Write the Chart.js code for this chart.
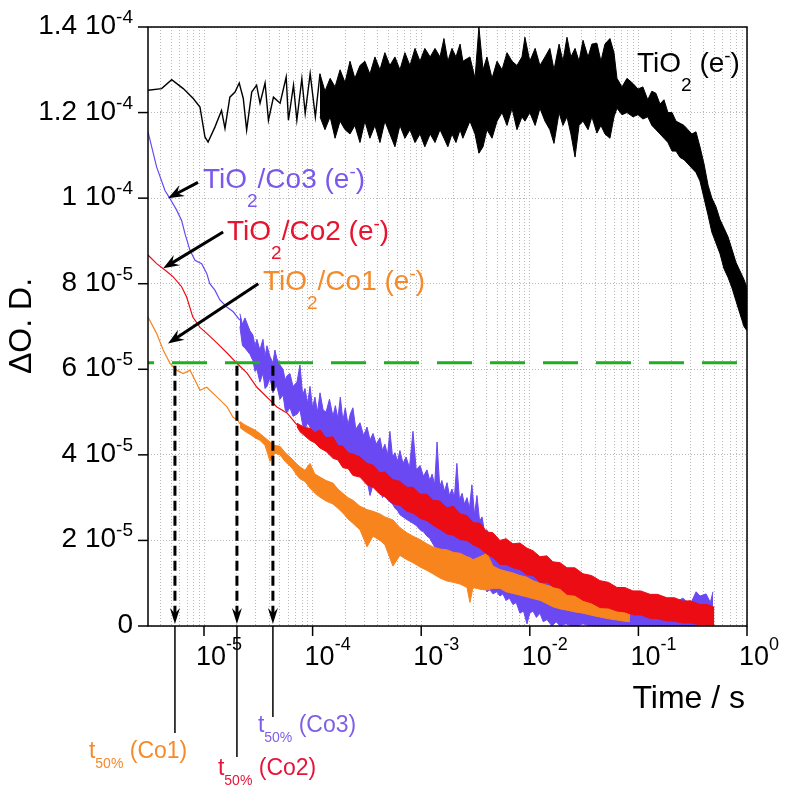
<!DOCTYPE html>
<html>
<head>
<meta charset="utf-8">
<script src="https://cdn.jsdelivr.net/npm/chart.js"></script>
<style>
  html, body { margin: 0; padding: 0; background: #fff; }
  #wrap { width: 786px; height: 790px; }
</style>
</head>
<body>
<div id="wrap"><canvas id="myChart" width="786" height="790"></canvas></div>
<script>
// all absorbance values are in units of 1e-5, times in seconds
const UNIT = 1e-5;
const X_MIN = 3.05e-6, X_MAX = 1;

const yTickValues = [0, 2e-5, 4e-5, 6e-5, 8e-5, 1e-4, 1.2e-4, 1.4e-4];
const yTickMain = ['0', '2 10', '4 10', '6 10', '8 10', '1 10', '1.2 10', '1.4 10'];
const yTickExp = ['', '-5', '-5', '-5', '-5', '-4', '-4', '-4'];
const xDecades = [1e-5, 1e-4, 1e-3, 1e-2, 1e-1, 1];
const xTickExp = ['-5', '-4', '-3', '-2', '-1', '0'];

// TiO2 (e-)
const tio2LineT = [3.05e-6, 4.07e-6, 5.04e-6, 6.44e-6, 7.96e-6, 9.18e-6, 1.02e-5, 1.09e-5, 1.26e-5, 1.45e-5, 1.56e-5, 1.73e-5, 1.93e-5, 2.11e-5, 2.30e-5, 2.47e-5, 2.75e-5, 3.05e-5, 3.28e-5, 3.65e-5, 3.92e-5, 4.36e-5, 5.02e-5, 5.71e-5, 5.99e-5, 6.67e-5, 7.16e-5, 7.96e-5, 8.55e-5, 9.50e-5, 1.06e-4, 1.17e-4];
const tio2LineV = [12.52, 12.56, 12.77, 12.56, 12.33, 12.13, 11.43, 11.31, 11.66, 12.05, 11.63, 12.36, 12.48, 12.69, 12.33, 11.59, 12.48, 12.64, 12.22, 12.69, 11.82, 12.36, 12.22, 12.83, 11.82, 12.64, 11.82, 12.79, 11.98, 12.91, 11.90, 12.91];
const tio2BandT = [1.17e-4, 1.30e-4, 1.45e-4, 1.61e-4, 1.79e-4, 1.99e-4, 2.21e-4, 2.45e-4, 2.73e-4, 3.03e-4, 3.37e-4, 3.75e-4, 4.17e-4, 4.63e-4, 5.15e-4, 5.73e-4, 6.37e-4, 7.08e-4, 7.88e-4, 8.77e-4, 9.75e-4, 1.08e-3, 1.21e-3, 1.34e-3, 1.49e-3, 1.62e-3, 1.76e-3, 1.92e-3, 2.09e-3, 2.28e-3, 2.42e-3, 2.81e-3, 3.13e-3, 3.40e-3, 3.71e-3, 4.03e-3, 4.49e-3, 4.99e-3, 5.55e-3, 6.17e-3, 6.86e-3, 7.62e-3, 8.47e-3, 9.02e-3, 1.00e-2, 1.12e-2, 1.24e-2, 1.38e-2, 1.53e-2, 1.67e-2, 1.86e-2, 2.02e-2, 2.20e-2, 2.39e-2, 2.61e-2, 2.84e-2, 3.09e-2, 3.44e-2, 3.73e-2, 4.15e-2, 4.52e-2, 4.92e-2, 5.47e-2, 5.96e-2, 6.35e-2, 7.06e-2, 7.85e-2, 8.91e-2, 9.91e-2, 0.110, 0.122, 0.133, 0.145, 0.158, 0.172, 0.187, 0.204, 0.222, 0.242, 0.263, 0.286, 0.311, 0.339, 0.369, 0.402, 0.438, 0.475, 0.518, 0.564, 0.614, 0.668, 0.728, 0.791, 0.861, 0.938, 1.0];
const tio2BandHi = [12.9, 12.5, 12.8, 12.6, 13.0, 12.7, 13.2, 12.8, 13.1, 13.2, 12.9, 13.3, 13.0, 13.4, 13.1, 13.3, 13.0, 13.4, 13.1, 13.5, 13.2, 13.5, 13.3, 13.5, 13.3, 13.73, 13.2, 13.5, 13.3, 13.6, 13.2, 13.3, 12.8, 14.0, 13.0, 13.3, 12.8, 13.2, 13.0, 13.4, 13.2, 13.1, 13.3, 13.76, 13.2, 13.5, 13.1, 13.3, 13.5, 13.0, 13.6, 13.2, 13.76, 13.3, 13.5, 13.2, 13.69, 13.3, 13.6, 13.62, 13.2, 13.6, 13.73, 13.4, 12.8, 12.6, 12.8, 12.68, 12.55, 12.6, 12.3, 12.5, 12.45, 12.2, 12.3, 12.0, 12.0, 11.8, 11.75, 11.7, 11.6, 11.5, 11.55, 11.2, 10.8, 10.3, 10.0, 9.8, 9.5, 9.3, 9.1, 8.8, 8.5, 8.3, 8.1, 7.9];
const tio2BandLo = [11.9, 11.6, 11.9, 11.4, 11.8, 11.6, 11.5, 11.7, 11.3, 11.8, 11.4, 11.7, 11.3, 11.8, 11.5, 11.2, 11.7, 11.4, 11.6, 11.3, 11.5, 11.2, 11.5, 11.3, 11.6, 11.4, 11.2, 11.5, 11.3, 11.6, 11.4, 11.8, 11.5, 11.05, 11.2, 11.6, 11.4, 11.8, 12.0, 11.7, 12.1, 11.6, 11.9, 11.8, 12.0, 11.7, 12.1, 11.8, 11.6, 11.28, 12.0, 11.7, 11.9, 11.5, 10.96, 11.7, 11.8, 11.6, 11.9, 11.52, 11.7, 11.5, 11.4, 11.9, 12.1, 11.95, 12.0, 11.9, 11.95, 11.85, 11.9, 11.7, 11.6, 11.5, 11.4, 11.3, 11.1, 11.1, 10.95, 10.9, 10.8, 10.7, 10.6, 10.4, 10.0, 9.6, 9.2, 8.95, 8.7, 8.35, 8.15, 7.9, 7.6, 7.3, 7.0, 6.9];

// TiO2/Co3 (e-)
const co3LineT = [3.05e-6, 3.66e-6, 4.37e-6, 4.86e-6, 5.60e-6, 6.22e-6, 6.68e-6, 7.43e-6, 8.26e-6, 9.51e-6, 1.06e-5, 1.13e-5, 1.26e-5, 1.40e-5, 1.63e-5, 1.85e-5, 2.14e-5];
const co3LineV = [11.55, 10.73, 10.18, 9.99, 9.72, 9.48, 9.17, 8.78, 8.55, 8.47, 8.24, 8.00, 7.85, 7.62, 7.45, 7.35, 7.15];
const co3BandT = [2.14e-5, 2.26e-5, 2.38e-5, 2.65e-5, 2.82e-5, 2.95e-5, 3.07e-5, 3.27e-5, 3.49e-5, 3.65e-5, 3.80e-5, 4.05e-5, 4.31e-5, 4.50e-5, 4.69e-5, 5.01e-5, 5.34e-5, 5.60e-5, 5.81e-5, 6.19e-5, 6.60e-5, 7.18e-5, 7.65e-5, 8.10e-5, 8.51e-5, 9.00e-5, 9.46e-5, 1.00e-4, 1.05e-4, 1.11e-4, 1.17e-4, 1.25e-4, 1.33e-4, 1.43e-4, 1.54e-4, 1.62e-4, 1.71e-4, 1.80e-4, 1.90e-4, 2.00e-4, 2.12e-4, 2.22e-4, 2.35e-4, 2.50e-4, 2.73e-4, 2.95e-4, 3.17e-4, 3.38e-4, 3.60e-4, 3.85e-4, 4.17e-4, 4.40e-4, 4.63e-4, 4.90e-4, 5.15e-4, 5.45e-4, 5.73e-4, 6.05e-4, 6.37e-4, 6.80e-4, 7.25e-4, 7.80e-4, 8.40e-4, 9.00e-4, 9.75e-4, 1.05e-3, 1.13e-3, 1.20e-3, 1.26e-3, 1.33e-3, 1.40e-3, 1.48e-3, 1.55e-3, 1.64e-3, 1.73e-3, 1.82e-3, 1.92e-3, 2.02e-3, 2.13e-3, 2.25e-3, 2.38e-3, 2.50e-3, 2.64e-3, 2.78e-3, 2.93e-3, 3.10e-3, 3.26e-3, 3.45e-3, 3.63e-3, 3.83e-3, 4.03e-3, 4.30e-3, 4.58e-3, 4.95e-3, 5.31e-3, 5.65e-3, 6.04e-3, 6.50e-3, 7.00e-3, 7.50e-3, 8.11e-3, 8.75e-3, 9.42e-3, 1.00e-2, 1.07e-2, 1.15e-2, 1.24e-2, 1.33e-2, 1.44e-2, 1.60e-2, 1.75e-2, 1.90e-2, 2.15e-2, 2.44e-2, 2.75e-2, 3.09e-2, 3.60e-2, 4.43e-2, 5.30e-2, 6.35e-2, 7.50e-2, 8.91e-2, 0.105, 0.128, 0.150, 0.183, 0.215, 0.257, 0.300, 0.340, 0.369, 0.420, 0.460, 0.486];
const co3BandHi = [7.30, 7.05, 7.20, 6.90, 6.80, 6.55, 6.70, 6.45, 6.70, 6.30, 6.55, 6.30, 6.15, 6.45, 6.25, 6.10, 6.00, 5.75, 5.85, 5.90, 5.60, 5.70, 6.10, 5.40, 5.55, 5.20, 5.60, 5.10, 5.35, 5.00, 5.45, 5.05, 5.00, 5.30, 4.90, 5.15, 4.85, 5.35, 4.80, 5.10, 4.70, 4.95, 5.10, 4.60, 4.75, 4.45, 4.65, 4.35, 4.50, 4.25, 4.40, 4.10, 4.25, 4.00, 4.55, 3.95, 4.05, 3.85, 4.10, 3.80, 3.95, 3.70, 4.55, 3.65, 3.75, 3.50, 3.65, 3.40, 3.55, 3.30, 4.30, 3.25, 3.40, 3.15, 3.35, 3.05, 3.20, 3.00, 3.80, 2.95, 3.10, 2.85, 3.00, 2.75, 3.30, 2.60, 3.05, 2.45, 2.55, 2.20, 2.25, 2.00, 2.05, 1.80, 1.90, 1.70, 1.95, 1.60, 1.75, 1.50, 1.55, 1.35, 1.40, 1.20, 1.35, 1.15, 1.25, 1.05, 1.10, 0.95, 1.00, 0.90, 0.85, 0.80, 0.65, 0.60, 0.55, 0.45, 0.40, 0.35, 0.30, 0.25, 0.30, 0.20, 0.35, 0.30, 0.55, 0.65, 0.50, 0.80, 0.70, 0.75, 0.55, 0.80];
const co3BandLo = [7.00, 6.55, 6.50, 6.35, 6.20, 5.95, 6.00, 5.70, 5.90, 5.55, 5.60, 5.80, 5.45, 5.55, 5.60, 5.30, 5.40, 5.05, 5.00, 5.10, 4.90, 4.95, 5.05, 4.70, 4.60, 4.75, 4.65, 4.45, 4.40, 4.55, 4.35, 4.25, 4.30, 4.15, 4.20, 4.00, 4.10, 3.95, 3.90, 3.85, 3.75, 3.80, 3.60, 3.70, 3.55, 3.45, 3.40, 3.05, 3.30, 3.20, 3.25, 3.00, 3.10, 2.95, 2.90, 2.85, 2.75, 2.70, 2.60, 2.55, 2.50, 2.45, 2.40, 2.35, 2.25, 2.20, 2.10, 2.05, 1.95, 1.85, 1.80, 1.65, 1.55, 1.50, 1.35, 1.45, 1.30, 1.40, 1.25, 1.20, 1.15, 1.10, 1.05, 0.70, 1.00, 0.95, 0.90, 0.95, 0.85, 0.90, 0.80, 0.85, 0.75, 0.80, 0.70, 0.75, 0.60, 0.65, 0.50, 0.55, 0.30, 0.35, 0.05, 0.30, 0.35, 0.20, 0.30, 0.10, 0.15, 0.00, 0.10, 0.00, 0.05, 0.00, 0.00, 0.05, 0.00, 0.00, 0.00, 0.00, 0, 0, 0, 0, 0, 0, 0, 0, 0, 0, 0, 0, 0, 0];

// TiO2/Co2 (e-)
const co2LineT = [3.05e-6, 3.66e-6, 4.37e-6, 5.21e-6, 6.22e-6, 6.92e-6, 7.89e-6, 9.18e-6, 1.06e-5, 1.32e-5, 1.63e-5, 2.01e-5, 2.49e-5, 3.07e-5, 3.49e-5, 4.05e-5, 4.69e-5, 5.81e-5, 7.18e-5];
const co2LineV = [8.67, 8.47, 8.32, 8.16, 7.93, 7.69, 7.22, 6.98, 6.84, 6.61, 6.38, 6.14, 5.91, 5.58, 5.44, 5.28, 5.12, 4.98, 4.70];
const co2BandT = [7.18e-5, 7.65e-5, 8.51e-5, 9.46e-5, 1.05e-4, 1.17e-4, 1.33e-4, 1.54e-4, 1.71e-4, 1.90e-4, 2.12e-4, 2.35e-4, 2.73e-4, 3.17e-4, 3.60e-4, 4.17e-4, 4.63e-4, 5.49e-4, 6.37e-4, 7.39e-4, 8.40e-4, 9.75e-4, 1.13e-3, 1.28e-3, 1.49e-3, 1.73e-3, 1.98e-3, 2.28e-3, 2.64e-3, 3.00e-3, 3.48e-3, 4.03e-3, 4.58e-3, 5.31e-3, 6.04e-3, 7.00e-3, 8.11e-3, 9.42e-3, 1.07e-2, 1.24e-2, 1.44e-2, 1.63e-2, 1.90e-2, 2.20e-2, 2.60e-2, 3.09e-2, 3.70e-2, 4.43e-2, 5.30e-2, 6.35e-2, 7.50e-2, 8.91e-2, 0.105, 0.128, 0.150, 0.183, 0.215, 0.257, 0.300, 0.369, 0.430, 0.500];
const co2BandHi = [4.74, 4.70, 4.64, 4.62, 4.52, 4.58, 4.40, 4.42, 4.22, 4.20, 4.05, 4.02, 3.95, 3.80, 3.76, 3.58, 3.60, 3.42, 3.38, 3.24, 3.24, 3.08, 3.08, 2.94, 2.92, 2.76, 2.80, 2.62, 2.58, 2.42, 2.40, 2.20, 2.18, 2.00, 2.04, 1.92, 1.94, 1.82, 1.76, 1.62, 1.64, 1.50, 1.48, 1.36, 1.36, 1.22, 1.18, 1.06, 1.02, 0.90, 0.90, 0.82, 0.82, 0.74, 0.74, 0.66, 0.66, 0.58, 0.59, 0.50, 0.50, 0.44];
const co2BandLo = [4.66, 4.54, 4.44, 4.34, 4.28, 4.16, 4.08, 3.92, 3.88, 3.70, 3.68, 3.52, 3.48, 3.30, 3.24, 3.08, 3.02, 2.86, 2.82, 2.68, 2.64, 2.52, 2.46, 2.36, 2.26, 2.15, 2.12, 2.02, 2.00, 1.90, 1.82, 1.68, 1.60, 1.44, 1.44, 1.36, 1.32, 1.20, 1.18, 1.02, 1.02, 0.92, 0.88, 0.74, 0.72, 0.60, 0.54, 0.43, 0.42, 0.35, 0.33, 0.26, 0.26, 0.18, 0.17, 0.12, 0.11, 0.07, 0.07, 0.03, 0.03, 0.01];

// TiO2/Co1 (e-)
const co1LineT = [3.05e-6, 3.66e-6, 4.21e-6, 4.86e-6, 5.60e-6, 6.44e-6, 7.43e-6, 8.55e-6, 9.18e-6, 1.06e-5, 1.32e-5, 1.63e-5, 1.85e-5, 2.05e-5, 2.14e-5];
const co1LineV = [7.22, 6.84, 6.45, 6.14, 5.98, 5.90, 5.98, 5.67, 5.51, 5.58, 5.35, 5.12, 4.88, 4.81, 4.72];
const co1BandT = [2.14e-5, 2.38e-5, 2.65e-5, 2.95e-5, 3.27e-5, 3.65e-5, 4.05e-5, 4.50e-5, 5.01e-5, 5.60e-5, 6.19e-5, 6.60e-5, 7.18e-5, 7.65e-5, 8.51e-5, 9.46e-5, 1.05e-4, 1.17e-4, 1.33e-4, 1.54e-4, 1.71e-4, 1.90e-4, 2.12e-4, 2.35e-4, 2.73e-4, 3.17e-4, 3.60e-4, 4.17e-4, 4.63e-4, 5.49e-4, 6.37e-4, 7.39e-4, 8.40e-4, 9.75e-4, 1.13e-3, 1.28e-3, 1.49e-3, 1.73e-3, 1.98e-3, 2.28e-3, 2.64e-3, 2.81e-3, 3.00e-3, 3.48e-3, 4.03e-3, 4.58e-3, 5.31e-3, 6.04e-3, 7.00e-3, 8.11e-3, 9.42e-3, 1.07e-2, 1.24e-2, 1.44e-2, 1.63e-2, 1.90e-2, 2.20e-2, 2.60e-2, 3.09e-2, 3.70e-2, 4.43e-2, 5.30e-2, 6.35e-2, 7.50e-2, 8.36e-2];
const co1BandHi = [4.78, 4.70, 4.64, 4.58, 4.50, 4.40, 4.30, 4.22, 4.20, 4.05, 3.95, 3.88, 3.78, 3.72, 3.64, 3.80, 3.55, 3.48, 3.40, 3.34, 3.20, 3.10, 3.00, 2.94, 2.80, 2.72, 2.68, 2.62, 2.55, 2.48, 2.30, 2.18, 2.10, 2.02, 1.92, 1.85, 1.80, 1.78, 1.72, 1.70, 1.62, 1.60, 1.55, 1.62, 1.70, 1.40, 1.32, 1.28, 1.24, 1.18, 1.14, 1.06, 1.00, 0.95, 0.92, 0.88, 0.84, 0.80, 0.76, 0.68, 0.62, 0.58, 0.54, 0.48, 0.45];
const co1BandLo = [4.64, 4.55, 4.48, 4.40, 4.34, 4.22, 3.85, 4.04, 4.00, 3.84, 3.74, 3.66, 3.52, 3.44, 3.38, 3.22, 3.10, 3.01, 2.92, 2.85, 2.75, 2.64, 2.50, 2.40, 2.25, 1.85, 2.10, 2.00, 1.90, 1.40, 1.65, 1.55, 1.48, 1.38, 1.30, 1.22, 1.12, 1.05, 1.02, 0.98, 0.90, 0.55, 0.90, 0.86, 0.84, 0.88, 0.88, 0.80, 0.76, 0.72, 0.68, 0.64, 0.60, 0.52, 0.45, 0.40, 0.37, 0.33, 0.30, 0.25, 0.21, 0.17, 0.14, 0.11, 0.10];

// 50 % level and the t50 times
const threshold = 6.15;
const t50Times = [5.4e-6, 2.01e-5, 4.31e-5];
const t50Names = ['Co1', 'Co2', 'Co3'];

const BLACK = '#000000', PURPLE = '#6a48f2', RED = '#ec0c14', ORANGE = '#f8841e', GREEN = '#1fae1f';
const FONT = '"Liberation Sans", Arial, Helvetica, sans-serif';

function pts(ts, vs) {
	return ts.map((t, i) => ({ x: t, y: vs[i] * UNIT }));
}

function series(color, lineT, lineV, bandT, hi, lo, order, width) {
	return [
		{ data: pts(lineT, lineV), borderColor: color, borderWidth: width, order: order },
		{ data: pts(bandT, hi), borderColor: color, borderWidth: 1, order: order },
		{ data: pts(bandT, lo), borderColor: color, borderWidth: 1, backgroundColor: color, fill: '-1', order: order }
	];
}

function drawRich(ctx, x, y, parts, color) {
	ctx.fillStyle = color;
	ctx.textAlign = 'left';
	ctx.textBaseline = 'alphabetic';
	for (const p of parts) {
		ctx.font = p[1] + 'px ' + FONT;
		ctx.fillText(p[0], x, y + (p[2] || 0));
		x += ctx.measureText(p[0]).width;
	}
}

function richWidth(ctx, parts) {
	let w = 0;
	for (const p of parts) {
		ctx.font = p[1] + 'px ' + FONT;
		w += ctx.measureText(p[0]).width;
	}
	return w;
}

function arrowHead(ctx, tx, ty, ang, len, half) {
	const c = Math.cos(ang), s = Math.sin(ang);
	const bx = tx - len * c, by = ty - len * s;
	const mx = tx - 0.65 * len * c, my = ty - 0.65 * len * s;
	ctx.beginPath();
	ctx.moveTo(tx, ty);
	ctx.lineTo(bx - s * half, by + c * half);
	ctx.lineTo(mx, my);
	ctx.lineTo(bx + s * half, by - c * half);
	ctx.closePath();
	ctx.fill();
}

function chem(tail) {
	return [['TiO', 28], ['2', 19, 19], [tail + ' (e', 28], ['-', 19, -10], [')', 28]];
}

// label anchors (left, baseline) and arrows in data coordinates
const chemLabels = [
	{ t: 9.78e-6, v: 10.23, parts: chem('/Co3'), color: '#7a58ee' },
	{ t: 1.63e-5, v: 9.02, parts: chem('/Co2'), color: '#e8132e' },
	{ t: 3.49e-5, v: 7.85, parts: chem('/Co1'), color: '#f58a2a' },
	{ t: 0.097, v: 12.94, parts: chem(''), color: BLACK }
];
const labelArrows = [
	[8.8e-6, 10.37, 4.66e-6, 10.0],
	[1.50e-5, 9.21, 4.21e-6, 8.36],
	[3.16e-5, 8.0, 4.66e-6, 6.6]
];
const t50Colors = ['#f58a2a', '#e8133a', '#7f5fe6'];
const t50Drop = [107, 131, 91];
const t50Dx = [-86, -19, -15];
const t50Base = [132, 149, 106];

const decor = {
	id: 'decor',
	afterDraw(chart) {
		const { ctx, chartArea: ca, scales: { x, y } } = chart;
		ctx.save();
		ctx.setLineDash([]);
		ctx.strokeStyle = BLACK;
		ctx.fillStyle = BLACK;
		ctx.lineWidth = 1.5;
		ctx.strokeRect(ca.left, ca.top, ca.right - ca.left, ca.bottom - ca.top);

		// y ticks and labels
		yTickValues.forEach((v, i) => {
			const py = y.getPixelForValue(v);
			ctx.lineWidth = 1.5;
			ctx.beginPath(); ctx.moveTo(ca.left - 10, py); ctx.lineTo(ca.left, py); ctx.stroke();
			const parts = [[yTickMain[i], 28]];
			if (yTickExp[i]) parts.push([yTickExp[i], 19, -11]);
			const w = richWidth(ctx, parts);
			drawRich(ctx, ca.left - 15 - w, py + 7, parts, BLACK);
		});

		// x decade ticks and labels
		xDecades.forEach((v, i) => {
			const px = x.getPixelForValue(v);
			ctx.lineWidth = 1.5;
			ctx.beginPath(); ctx.moveTo(px, ca.bottom); ctx.lineTo(px, ca.bottom + 10); ctx.stroke();
			drawRich(ctx, px - 8, ca.bottom + 39, [['10', 27], [xTickExp[i], 18, -15]], BLACK);
		});

		// t50 markers
		const y50 = y.getPixelForValue(threshold * UNIT);
		const y0 = y.getPixelForValue(0);
		t50Times.forEach((t, i) => {
			const px = x.getPixelForValue(t);
			ctx.strokeStyle = BLACK; ctx.fillStyle = BLACK;
			ctx.lineWidth = 3;
			ctx.setLineDash([10, 5]);
			ctx.beginPath(); ctx.moveTo(px, y50 + 3); ctx.lineTo(px, y0 - 12); ctx.stroke();
			ctx.setLineDash([]);
			arrowHead(ctx, px, y0 - 2, Math.PI / 2, 16, 5);
			ctx.lineWidth = 1.5;
			ctx.beginPath(); ctx.moveTo(px, ca.bottom); ctx.lineTo(px, ca.bottom + t50Drop[i]); ctx.stroke();
			drawRich(ctx, px + t50Dx[i], ca.bottom + t50Base[i],
				[['t', 23], ['50%', 14, 10], [' (' + t50Names[i] + ')', 23]], t50Colors[i]);
		});

		// arrows pointing at the curves
		ctx.strokeStyle = BLACK; ctx.fillStyle = BLACK;
		labelArrows.forEach(([t0, v0, t1, v1]) => {
			const ax = x.getPixelForValue(t0), ay = y.getPixelForValue(v0 * UNIT);
			const bx = x.getPixelForValue(t1), by = y.getPixelForValue(v1 * UNIT);
			const ang = Math.atan2(by - ay, bx - ax);
			ctx.lineWidth = 3;
			ctx.beginPath(); ctx.moveTo(ax, ay); ctx.lineTo(bx - 10 * Math.cos(ang), by - 10 * Math.sin(ang)); ctx.stroke();
			arrowHead(ctx, bx, by, ang, 16, 6);
		});

		chemLabels.forEach(l => {
			drawRich(ctx, x.getPixelForValue(l.t), y.getPixelForValue(l.v * UNIT), l.parts, l.color);
		});

		// axis titles
		ctx.fillStyle = BLACK;
		ctx.font = '32px ' + FONT;
		ctx.textAlign = 'right';
		ctx.textBaseline = 'alphabetic';
		ctx.fillText('Time / s', ca.right - 2, ca.bottom + 82);

		ctx.save();
		ctx.translate(ca.left - 126, 326);
		ctx.rotate(-Math.PI / 2);
		ctx.textAlign = 'center';
		ctx.textBaseline = 'middle';
		ctx.font = '32px ' + FONT;
		ctx.fillText('\u0394O. D.', 0, 0);
		ctx.restore();
		ctx.restore();
	}
};

const datasets = [].concat(
	series(PURPLE, co3LineT, co3LineV, co3BandT, co3BandHi, co3BandLo, 5, 1.2),
	series(ORANGE, co1LineT, co1LineV, co1BandT, co1BandHi, co1BandLo, 4, 1.2),
	series(RED, co2LineT, co2LineV, co2BandT, co2BandHi, co2BandLo, 3, 1.2),
	series(BLACK, tio2LineT, tio2LineV, tio2BandT, tio2BandHi, tio2BandLo, 2, 1.4),
	[{
		data: [{ x: X_MIN, y: threshold * UNIT }, { x: X_MAX, y: threshold * UNIT }],
		borderColor: GREEN, borderWidth: 3, borderDash: [35, 18], borderDashOffset: 29, order: 1
	}]
);

new Chart("myChart", {
	type: "line",
	data: { datasets: datasets },
	options: {
		responsive: false,
		animation: false,
		events: [],
		layout: { padding: { top: 27, right: 39, left: 0, bottom: 0 } },
		elements: { point: { radius: 0 }, line: { tension: 0, fill: false } },
		plugins: { legend: { display: false }, tooltip: { enabled: false } },
		scales: {
			x: {
				type: 'logarithmic',
				min: X_MIN,
				max: X_MAX,
				ticks: { display: false },
				grid: { color: '#b8b8b8', lineWidth: 1, drawTicks: false },
				border: { display: false, dash: [1, 2] },
				afterBuildTicks: function(scale) {
					const ticks = [];
					for (let e = -6; e <= 0; e++) {
						for (let m = 1; m < 10; m++) {
							const v = m * Math.pow(10, e);
							if (v > X_MIN * 1.01 && v <= X_MAX) ticks.push({ value: v });
						}
					}
					scale.ticks = ticks;
				},
				afterFit: function(scale) { scale.height = 164; }
			},
			y: {
				min: 0,
				max: 1.4e-4,
				ticks: { display: false },
				grid: { color: '#b8b8b8', lineWidth: 1, drawTicks: false },
				border: { display: false, dash: [1, 2] },
				afterBuildTicks: function(scale) {
					scale.ticks = yTickValues.map(v => ({ value: v }));
				},
				afterFit: function(scale) { scale.width = 148; }
			}
		}
	},
	plugins: [decor]
});
</script>
</body>
</html>
